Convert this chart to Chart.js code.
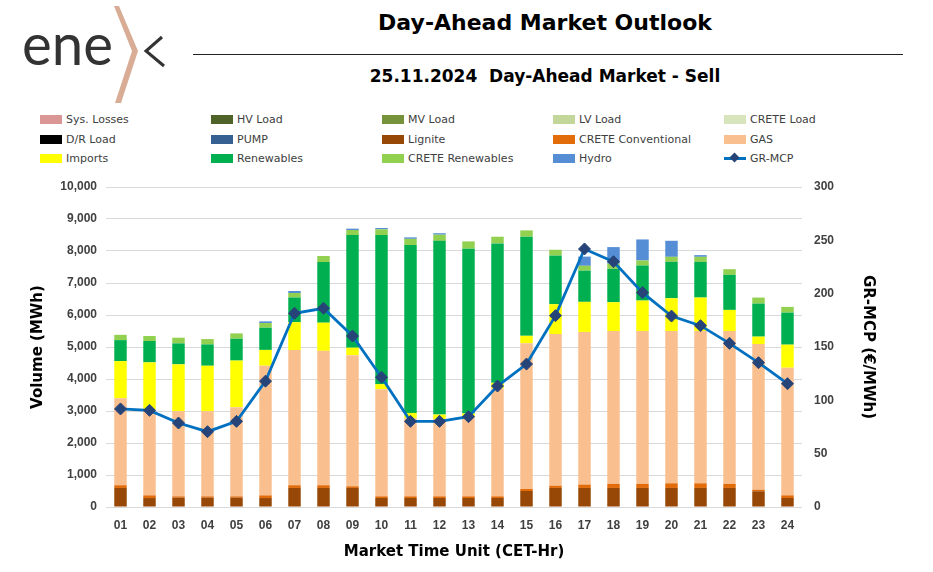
<!DOCTYPE html>
<html>
<head>
<meta charset="utf-8">
<title>Day-Ahead Market Outlook</title>
<script src="https://cdn.jsdelivr.net/npm/chart.js@4.4.1/dist/chart.umd.min.js"></script>
<style>
  body { margin: 0; width: 933px; height: 572px; background: #fff; position: relative; overflow: hidden; font-family: "DejaVu Sans", sans-serif; }
  #logo { position: absolute; left: 0; top: 0; }
  .title { position: absolute; left: 190px; width: 710px; text-align: center; font-weight: bold; color: #000; white-space: pre; }
  #t1 { top: 10px; font-size: 22px; }
  #t2 { top: 66px; font-size: 17px; }
  #rule { position: absolute; left: 193px; top: 54px; width: 710px; border-top: 1.5px solid #222; }
  #legend { position: absolute; left: 40px; top: 110px; display: grid; grid-template-columns: repeat(5, 171px); grid-auto-rows: 19.5px; font-size: 11px; color: #404040; }
  #legend .item { display: flex; align-items: center; }
  #legend .key { width: 22px; height: 9px; margin-right: 4px; flex: none; position: relative; }
  #legend .key.line { height: 3px; background: #0070c0; }
  #legend .key.line i { position: absolute; left: 7px; top: -3px; width: 7px; height: 7px; background: #264478; transform: rotate(45deg); }
  #wrap { position: absolute; left: 0; top: 175px; width: 933px; height: 397px; }
</style>
</head>
<body>
<svg id="logo" width="190" height="110" viewBox="0 0 190 110">
  <text x="22" y="65" font-family="Lato, 'Open Sans', sans-serif" font-weight="400" font-size="58" fill="#333" textLength="91" lengthAdjust="spacingAndGlyphs">ene</text>
  <polygon points="114,6 119,6 138,51 121,103 115,103 132,51" fill="#d9ad95"/>
  <polyline points="162,37 146,51 164,66" fill="none" stroke="#333" stroke-width="3"/>
</svg>
<div class="title" id="t1">Day-Ahead Market Outlook</div>
<div id="rule"></div>
<div class="title" id="t2">25.11.2024  Day-Ahead Market - Sell</div>
<div id="legend"></div>
<div id="wrap"><canvas id="chart" width="933" height="397"></canvas></div>

<script>
// Market time units (CET hours)
const hours = ['01', '02', '03', '04', '05', '06', '07', '08', '09', '10', '11', '12',
               '13', '14', '15', '16', '17', '18', '19', '20', '21', '22', '23', '24'];

// Load-side series are empty on the sell side
const noVolume = [0, 0, 0, 0, 0, 0, 0, 0, 0, 0, 0, 0, 0, 0, 0, 0, 0, 0, 0, 0, 0, 0, 0, 0];

// Sell volumes (MWh)
const lignite = [595, 280, 290, 290, 290, 280, 595, 595, 595, 282, 282, 282,
                 282, 282, 500, 595, 595, 595, 595, 595, 595, 595, 491, 282];
const creteConventional = [85, 85, 42, 42, 42, 84, 85, 85, 52, 52, 52, 52,
                           52, 52, 63, 73, 104, 125, 125, 146, 146, 125, 52, 83];
const gas = [2720, 2675, 2662, 2662, 2787, 4052, 4226, 4200, 4098, 3349, 2436, 2408,
             2500, 3368, 4557, 4736, 4773, 4778, 4781, 4760, 4760, 4781, 4551, 3988];
const imports = [1160, 1480, 1464, 1420, 1457, 493, 869, 880, 234, 156, 170, 146,
                 90, 177, 229, 934, 939, 902, 950, 1023, 1044, 658, 230, 720];
const renewables = [655, 668, 655, 667, 682, 694, 772, 1896, 3521, 4661, 5247, 5429,
                    5146, 4359, 3097, 1518, 976, 1044, 1096, 1138, 1117, 1096, 1033, 1002];
const creteRenewables = [165, 156, 177, 167, 167, 146, 141, 188, 156, 177, 193, 193,
                         230, 208, 198, 183, 151, 161, 157, 156, 156, 177, 188, 178];
const hydro = [0, 0, 0, 0, 0, 52, 62, 0, 42, 42, 46, 46,
               0, 0, 0, 0, 287, 517, 657, 501, 53, 0, 0, 0];

// Greek market clearing price (EUR/MWh)
const grMcp = [91.92, 90.60, 78.75, 70.60, 80.30, 118.00, 181.60, 186.30, 160.30, 121.60, 80.30, 80.30,
               84.70, 113.40, 134.00, 179.40, 241.90, 230.00, 201.00, 179.00, 170.00, 153.40, 135.30, 115.60];

const tickFont = { family: 'Liberation Sans', weight: 'bold', size: 12 };
const titleFont = { family: 'DejaVu Sans', weight: 'bold', size: 15 };

function bar(label, data, color) {
  return { type: 'bar', label: label, data: data, backgroundColor: color, borderWidth: 0,
           stack: 'sell', yAxisID: 'y', barPercentage: 0.43, categoryPercentage: 1 };
}

// fixed axis box widths; drop the tick-label overhang so the plot top is set by layout padding
function fixVertical(width) {
  return function (s) {
    s.width = width;
    s.paddingTop = 0;
    s.paddingBottom = 0;
  };
}

const chart = new Chart(document.getElementById('chart'), {
  data: {
    labels: hours,
    datasets: [
      bar('Sys. Losses', noVolume, '#da9694'),
      bar('HV Load', noVolume, '#4f6228'),
      bar('MV Load', noVolume, '#76933c'),
      bar('LV Load', noVolume, '#c4d79b'),
      bar('CRETE Load', noVolume, '#d8e4bc'),
      bar('D/R Load', noVolume, '#000000'),
      bar('PUMP', noVolume, '#366092'),
      bar('Lignite', lignite, '#974706'),
      bar('CRETE Conventional', creteConventional, '#e26b0a'),
      bar('GAS', gas, '#fabf8f'),
      bar('Imports', imports, '#ffff00'),
      bar('Renewables', renewables, '#00b050'),
      bar('CRETE Renewables', creteRenewables, '#92d050'),
      bar('Hydro', hydro, '#558ed5'),
      {
        type: 'line', label: 'GR-MCP', data: grMcp, yAxisID: 'y1', order: -1,
        borderColor: '#0070c0', borderWidth: 2.8, tension: 0,
        pointStyle: 'rectRot', pointRadius: 6, pointBackgroundColor: '#264478',
        pointBorderColor: '#264478', pointBorderWidth: 1
      }
    ]
  },
  options: {
    responsive: false,
    devicePixelRatio: 1,
    animation: false,
    layout: { padding: { left: 25, right: 52, top: 12, bottom: 7 } },
    plugins: { legend: { display: false }, tooltip: { enabled: false } },
    scales: {
      x: {
        stacked: true,
        grid: { display: false },
        border: { display: false },
        ticks: { color: '#404040', font: tickFont, padding: 3 },
        title: { display: true, text: 'Market Time Unit (CET-Hr)', color: '#000', font: titleFont },
        afterFit: function (s) { s.height = 58; }
      },
      y: {
        stacked: true,
        min: 0,
        max: 10000,
        ticks: { stepSize: 1000, color: '#404040', font: tickFont, padding: 9 },
        grid: { color: '#d9d9d9', drawTicks: false },
        border: { display: false },
        title: { display: true, text: 'Volume (MWh)', color: '#000', font: titleFont },
        afterFit: fixVertical(81)
      },
      y1: {
        position: 'right',
        min: 0,
        max: 300,
        ticks: { stepSize: 50, color: '#404040', font: tickFont, padding: 12 },
        grid: { drawOnChartArea: false, drawTicks: false },
        border: { display: false },
        title: { display: true, text: 'GR-MCP (€/MWh)', color: '#000', font: titleFont },
        afterFit: fixVertical(79)
      }
    }
  }
});

// HTML legend laid out in five columns like the original
var legendEl = document.getElementById('legend');
chart.data.datasets.forEach(function (ds) {
  var item = document.createElement('div');
  item.className = 'item';
  var key = document.createElement('span');
  key.className = 'key';
  if (ds.type === 'line') {
    key.className = 'key line';
    key.appendChild(document.createElement('i'));
  } else {
    key.style.background = ds.backgroundColor;
  }
  item.appendChild(key);
  item.appendChild(document.createTextNode(ds.label));
  legendEl.appendChild(item);
});
</script>
</body>
</html>
